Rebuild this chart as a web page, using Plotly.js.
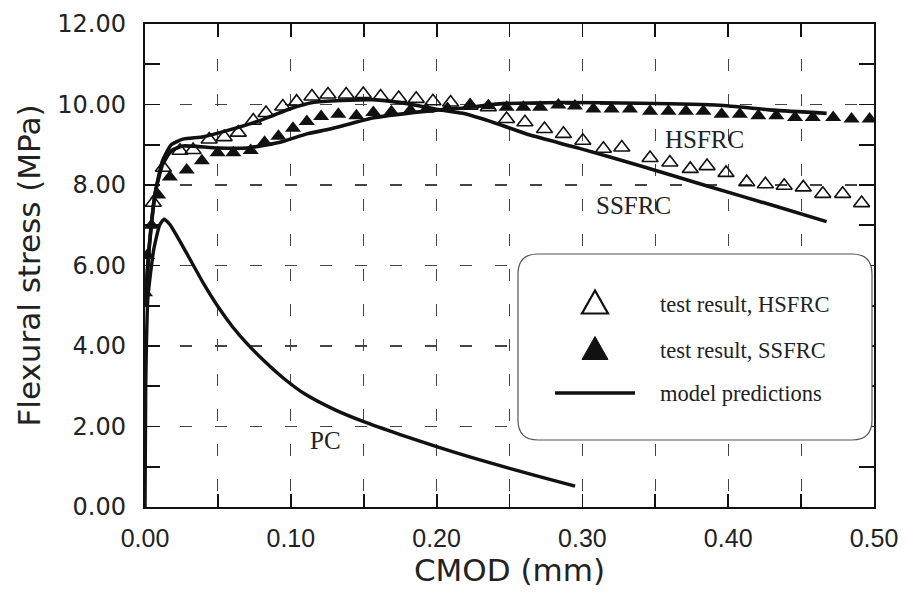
<!DOCTYPE html>
<html>
<head>
<meta charset="utf-8">
<script src="https://cdn.plot.ly/plotly-3.0.1.min.js"></script>
<style>html,body{margin:0;padding:0;background:#fff;}#chart{width:906px;height:594px;}</style>
</head>
<body>
<div id="chart"></div>
<script>
// ---- data ----
const hsfrcTestX = [0.0057,0.0126,0.024,0.033,0.044,0.0543,0.064,0.0743,0.083,0.0945,0.104,0.1145,0.1255,0.138,0.1497,0.1616,0.174,0.186,0.1975,0.2096,0.223,0.2355,0.248,0.2606,0.274,0.287,0.3003,0.3144,0.327,0.3464,0.36,0.374,0.3855,0.3985,0.4127,0.4255,0.4384,0.4515,0.4649,0.4785,0.4915];
const hsfrcTestY = [7.56,8.43,8.85,8.87,9.13,9.19,9.30,9.60,9.79,9.95,10.07,10.20,10.25,10.25,10.26,10.20,10.16,10.14,10.08,10.05,9.97,9.93,9.64,9.56,9.39,9.27,9.10,8.90,8.93,8.67,8.56,8.40,8.47,8.30,8.07,8.02,7.98,7.94,7.78,7.78,7.55];

const ssfrcTestX = [0,0.0015,0.0045,0.009,0.017,0.0286,0.039,0.0498,0.0606,0.0725,0.082,0.0915,0.1015,0.111,0.1208,0.1326,0.145,0.1566,0.169,0.182,0.193,0.2075,0.223,0.2355,0.248,0.2595,0.271,0.2835,0.2949,0.3075,0.32,0.3326,0.3464,0.359,0.371,0.383,0.3955,0.408,0.4207,0.433,0.4458,0.458,0.472,0.4846,0.497];
const ssfrcTestY = [5.32,6.25,7.0,7.75,8.2,8.37,8.6,8.8,8.8,8.86,9.06,9.21,9.41,9.58,9.7,9.76,9.72,9.8,9.82,9.86,9.88,9.9,9.99,9.97,9.93,9.93,9.93,9.99,9.96,9.89,9.89,9.89,9.83,9.83,9.83,9.83,9.76,9.76,9.72,9.72,9.68,9.68,9.68,9.64,9.64];

const modelAX = [0,0.003,0.007,0.012,0.018,0.026,0.04,0.058,0.081,0.1,0.115,0.135,0.156,0.18,0.2,0.218,0.241,0.264,0.298,0.3395,0.385,0.431,0.4675];
const modelAY = [5.0,6.5,7.8,8.6,9.0,9.14,9.2,9.37,9.63,9.9,10.05,10.1,10.12,10.02,9.88,9.78,9.53,9.24,8.91,8.48,7.98,7.49,7.09];

const modelBX = [0,0.003,0.007,0.012,0.018,0.026,0.035,0.05,0.0698,0.0926,0.111,0.127,0.157,0.2,0.22,0.241,0.287,0.3395,0.394,0.431,0.4675];
const modelBY = [5.0,6.5,7.8,8.5,8.85,8.97,8.96,8.92,8.92,9.06,9.27,9.39,9.67,9.86,9.92,10.01,10.05,10.03,9.98,9.86,9.78];

const pcModelX = [0,0.0005,0.002,0.006,0.010,0.013,0.017,0.024,0.032,0.040,0.050,0.060,0.070,0.082,0.095,0.110,0.130,0.150,0.175,0.200,0.225,0.250,0.275,0.295];
const pcModelY = [0,3.0,5.2,6.4,7.0,7.15,7.02,6.6,6.08,5.56,4.98,4.48,4.06,3.62,3.2,2.8,2.42,2.12,1.8,1.5,1.22,0.96,0.71,0.52];

const curveLabels = ["HSFRC","SSFRC","PC"];
const legendLabels = ["test result, HSFRC","test result, SSFRC","model predictions"];
const xTitle = "CMOD (mm)";
const yTitle = "Flexural stress (MPa)";

// ---- layout helpers (pixel -> paper) ----
const M = {l:145, r:32, t:24, b:87};
const W = 906, H = 594;
const PW = W - M.l - M.r, PH = H - M.t - M.b;
const fx = px => (px - M.l) / PW;
const fy = py => (H - M.b - py) / PH;

function roundRect(x0, y0, x1, y1, r) {
  const P = (x, y) => fx(x) + ',' + fy(y);
  return 'M' + P(x0 + r, y0) + ' L' + P(x1 - r, y0) + ' Q' + P(x1, y0) + ' ' + P(x1, y0 + r) +
    ' L' + P(x1, y1 - r) + ' Q' + P(x1, y1) + ' ' + P(x1 - r, y1) +
    ' L' + P(x0 + r, y1) + ' Q' + P(x0, y1) + ' ' + P(x0, y1 - r) +
    ' L' + P(x0, y0 + r) + ' Q' + P(x0, y0) + ' ' + P(x0 + r, y0) + ' Z';
}
function tri(cx, cy, w, h) {
  return 'M' + fx(cx - w/2) + ',' + fy(cy + h/2) + ' L' + fx(cx + w/2) + ',' + fy(cy + h/2) +
    ' L' + fx(cx) + ',' + fy(cy - h/2) + ' Z';
}

const lineStyle = {color:'#111', width:3.6, shape:'spline', smoothing:0.5};
const pcLineStyle = {color:'#111', width:3.4, shape:'spline', smoothing:0.5};

const traces = [
  {x:modelAX, y:modelAY, mode:'lines', line:lineStyle, hoverinfo:'skip', showlegend:false},
  {x:modelBX, y:modelBY, mode:'lines', line:lineStyle, hoverinfo:'skip', showlegend:false},
  {x:pcModelX, y:pcModelY, mode:'lines', line:pcLineStyle, hoverinfo:'skip', showlegend:false},
  {x:hsfrcTestX, y:hsfrcTestY, mode:'markers', showlegend:false,
   marker:{symbol:'triangle-up-open', size:14, color:'#111', line:{width:1.6, color:'#111'}}},
  {x:ssfrcTestX, y:ssfrcTestY, mode:'markers', showlegend:false,
   marker:{symbol:'triangle-up', size:14, color:'#111', line:{width:0}}}
];

const serif = 'Liberation Serif, Times New Roman, serif';
const gridDash = '12px,23px';

const layout = {
  width:W, height:H,
  margin:M,
  paper_bgcolor:'#fff', plot_bgcolor:'#fff',
  showlegend:false,
  xaxis:{
    range:[0,0.5], dtick:0.1, tick0:0, tickformat:'.2f',
    ticks:'inside', ticklen:13, tickwidth:1.8, tickcolor:'#111',
    showline:true, linecolor:'#111', linewidth:2.2, mirror:'ticks',
    showgrid:true, gridcolor:'#444', gridwidth:1.1, griddash:gridDash,
    zeroline:false,
    minor:{dtick:0.05, ticks:'inside', ticklen:13, tickwidth:1.8, tickcolor:'#111',
           showgrid:true, gridcolor:'#444', gridwidth:1.1, griddash:gridDash},
    tickfont:{family:'Liberation Sans, Arial, sans-serif', size:25, color:'#222'},
    ticklabelstandoff:8,
    title:{text:xTitle, font:{family:'DejaVu Sans, sans-serif', size:31, color:'#222'}, standoff:4}
  },
  yaxis:{
    range:[0,12], dtick:2, tick0:0, tickformat:'.2f',
    ticks:'inside', ticklen:15, tickwidth:1.8, tickcolor:'#111',
    showline:true, linecolor:'#111', linewidth:2.2, mirror:'ticks',
    showgrid:true, gridcolor:'#444', gridwidth:1.1, griddash:gridDash,
    zeroline:false,
    minor:{dtick:1, ticks:'inside', ticklen:15, tickwidth:1.8, tickcolor:'#111', showgrid:false},
    tickfont:{family:'DejaVu Sans, sans-serif', size:24, color:'#222'},
    ticklabelstandoff:12,
    title:{text:yTitle, font:{family:'DejaVu Sans, sans-serif', size:31, color:'#222'}, standoff:8}
  },
  shapes:[
    {type:'path', xref:'paper', yref:'paper', path:roundRect(518,254,872,440,20),
     fillcolor:'#fff', line:{color:'#555', width:1.2}, layer:'above'},
    {type:'path', xref:'paper', yref:'paper', path:tri(595,302,26,23),
     fillcolor:'rgba(0,0,0,0)', line:{color:'#111', width:2.2}, layer:'above'},
    {type:'path', xref:'paper', yref:'paper', path:tri(595,348,26,23),
     fillcolor:'#111', line:{color:'#111', width:1}, layer:'above'},
    {type:'line', xref:'paper', yref:'paper', x0:fx(555), x1:fx(635), y0:fy(393), y1:fy(393),
     line:{color:'#111', width:3.6}, layer:'above'}
  ],
  annotations:[
    {x:0.384, y:9.12, xref:'x', yref:'y', text:curveLabels[0], showarrow:false,
     font:{family:serif, size:25, color:'#222'}},
    {x:0.335, y:7.50, xref:'x', yref:'y', text:curveLabels[1], showarrow:false,
     font:{family:serif, size:25, color:'#222'}},
    {x:0.124, y:1.66, xref:'x', yref:'y', text:curveLabels[2], showarrow:false,
     font:{family:serif, size:25, color:'#222'}},
    {x:fx(658), y:fy(304), xref:'paper', yref:'paper', xanchor:'left', yanchor:'middle',
     text:legendLabels[0], showarrow:false, font:{family:serif, size:22.5, color:'#222'}},
    {x:fx(658), y:fy(350), xref:'paper', yref:'paper', xanchor:'left', yanchor:'middle',
     text:legendLabels[1], showarrow:false, font:{family:serif, size:22.5, color:'#222'}},
    {x:fx(658), y:fy(393), xref:'paper', yref:'paper', xanchor:'left', yanchor:'middle',
     text:legendLabels[2], showarrow:false, font:{family:serif, size:22.5, color:'#222'}}
  ]
};

Plotly.newPlot('chart', traces, layout, {displayModeBar:false, staticPlot:true});
</script>
</body>
</html>
